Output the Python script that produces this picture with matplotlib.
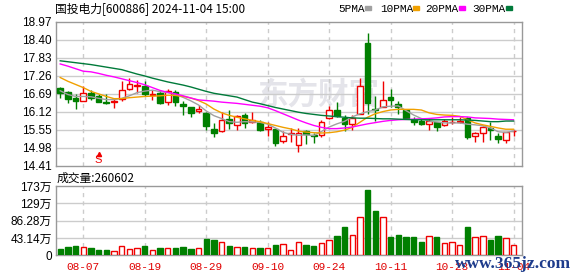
import numpy as np
import matplotlib
matplotlib.use('Agg')
import matplotlib.pyplot as plt
from matplotlib.patches import Rectangle

plt.rcParams['font.family'] = ['Liberation Sans', 'Noto Sans CJK SC']

# trading days shown (MM-DD)
dates = ['08-02', '08-05', '08-06', '08-07', '08-08', '08-09', '08-12', '08-13', '08-14', '08-15',
         '08-16', '08-19', '08-20', '08-21', '08-22', '08-23', '08-26', '08-27', '08-28', '08-29',
         '08-30', '09-02', '09-03', '09-04', '09-05', '09-06', '09-09', '09-10', '09-11', '09-12',
         '09-13', '09-18', '09-19', '09-20', '09-23', '09-24', '09-25', '09-26', '09-27', '09-30',
         '10-08', '10-09', '10-10', '10-11', '10-14', '10-15', '10-16', '10-17', '10-18', '10-21',
         '10-22', '10-23', '10-24', '10-25', '10-28', '10-29', '10-30', '10-31', '11-01', '11-04']

opens = [16.86, 16.74, 16.54, 16.47, 16.71, 16.61, 16.42, 16.41, 16.52, 16.83,
         16.93, 16.92, 16.64, 16.72, 16.42, 16.75, 16.37, 16.26, 16.13, 16.09,
         15.58, 15.50, 15.87, 15.71, 16.02, 15.79, 15.78, 15.56, 15.56, 15.20,
         15.40, 15.06, 15.49, 15.39, 15.38, 15.91, 16.18, 15.91, 15.72, 16.04,
         18.28, 16.19, 16.28, 16.59, 16.37, 16.17, 15.85, 15.82, 15.73, 15.78,
         15.68, 15.78, 15.79, 15.91, 15.33, 15.43, 15.59, 15.33, 15.22, 15.49]
highs = [16.89, 16.76, 16.68, 16.93, 16.82, 16.68, 16.68, 16.53, 17.08, 17.17,
         17.12, 17.10, 16.79, 16.80, 16.84, 16.80, 16.46, 16.27, 16.34, 16.10,
         15.75, 16.12, 16.17, 16.00, 16.07, 16.12, 15.86, 15.79, 15.57, 15.49,
         15.59, 15.59, 15.54, 15.43, 15.84, 16.30, 16.42, 16.01, 16.01, 17.18,
         18.60, 16.60, 17.08, 16.83, 16.45, 16.19, 15.96, 15.93, 15.93, 15.80,
         15.89, 15.96, 15.96, 15.96, 15.46, 15.66, 15.80, 15.43, 15.48, 15.54]
lows = [16.56, 16.39, 16.19, 16.45, 16.50, 16.42, 16.35, 16.24, 16.47, 16.80,
        16.72, 16.62, 16.50, 16.35, 16.33, 16.29, 16.00, 15.96, 16.09, 15.52,
        15.31, 15.48, 15.58, 15.55, 15.61, 15.76, 15.51, 15.33, 15.04, 15.12,
        15.14, 14.85, 15.09, 15.12, 15.30, 15.90, 15.95, 15.49, 15.52, 16.03,
        16.04, 15.81, 16.26, 16.27, 16.05, 15.90, 15.71, 15.70, 15.54, 15.49,
        15.66, 15.72, 15.75, 15.25, 15.14, 15.17, 15.22, 15.12, 15.12, 15.36]
closes = [16.72, 16.52, 16.46, 16.71, 16.55, 16.43, 16.38, 16.47, 16.82, 17.00,
          16.95, 16.68, 16.67, 16.40, 16.78, 16.43, 16.29, 16.06, 16.20, 15.65,
          15.43, 15.86, 15.75, 15.97, 15.76, 15.85, 15.55, 15.62, 15.12, 15.35,
          15.45, 15.43, 15.41, 15.36, 15.80, 16.16, 15.98, 15.73, 15.92, 16.93,
          16.40, 16.16, 16.50, 16.48, 16.26, 15.91, 15.80, 15.74, 15.82, 15.64,
          15.82, 15.80, 15.81, 15.30, 15.43, 15.64, 15.54, 15.24, 15.46, 15.51]

# volume (hands)
volumes = [159000, 209000, 235000, 201000, 184000, 134000, 134000, 101000, 226000, 159000,
           176000, 235000, 126000, 184000, 176000, 184000, 209000, 159000, 176000, 410000,
           385000, 327000, 235000, 201000, 209000, 176000, 176000, 184000, 260000, 276000,
           125000, 327000, 260000, 235000, 302000, 385000, 469000, 695000, 503000, 955000,
           1617000, 1097000, 955000, 444000, 503000, 461000, 461000, 335000, 469000, 461000,
           302000, 327000, 251000, 712000, 452000, 477000, 369000, 486000, 436000, 260602]

ma5 = [16.78, 16.66, 16.60, 16.60, 16.59, 16.54, 16.50, 16.50, 16.54, 16.62,
       16.72, 16.77, 16.80, 16.75, 16.72, 16.66, 16.57, 16.46, 16.33, 16.14,
       15.99, 15.90, 15.80, 15.78, 15.80, 15.79, 15.78, 15.72, 15.60, 15.46,
       15.40, 15.37, 15.38, 15.36, 15.49, 15.63, 15.73, 15.81, 15.95, 16.05,
       16.12, 16.17, 16.27, 16.29, 16.30, 16.15, 16.01, 15.90, 15.82, 15.79,
       15.76, 15.76, 15.76, 15.72, 15.70, 15.67, 15.60, 15.48, 15.46, 15.50]
ma10 = [17.20, 17.08, 16.98, 16.88, 16.76, 16.68, 16.60, 16.53, 16.53, 16.56,
        16.58, 16.60, 16.61, 16.62, 16.64, 16.63, 16.60, 16.55, 16.47, 16.36,
        16.20, 16.08, 16.00, 15.94, 15.89, 15.84, 15.80, 15.74, 15.68, 15.62,
        15.57, 15.50, 15.47, 15.45, 15.44, 15.45, 15.48, 15.53, 15.62, 15.78,
        15.94, 16.05, 16.12, 16.17, 16.19, 16.19, 16.19, 16.17, 16.08, 16.03,
        16.01, 16.00, 15.97, 15.86, 15.76, 15.70, 15.65, 15.60, 15.56, 15.56]
ma20 = [17.63, 17.56, 17.48, 17.40, 17.38, 17.33, 17.27, 17.22, 17.16, 17.10,
        17.04, 16.97, 16.88, 16.79, 16.73, 16.68, 16.62, 16.55, 16.49, 16.47,
        16.45, 16.42, 16.40, 16.38, 16.35, 16.32, 16.29, 16.24, 16.15, 16.05,
        15.95, 15.85, 15.76, 15.68, 15.62, 15.58, 15.58, 15.60, 15.63, 15.68,
        15.73, 15.77, 15.81, 15.84, 15.86, 15.87, 15.88, 15.89, 15.90, 15.92,
        15.95, 15.96, 15.96, 15.95, 15.92, 15.91, 15.90, 15.88, 15.87, 15.86]
ma30 = [17.73, 17.70, 17.67, 17.64, 17.61, 17.57, 17.53, 17.49, 17.45, 17.38,
        17.31, 17.25, 17.18, 17.12, 17.06, 17.01, 16.96, 16.90, 16.83, 16.76,
        16.70, 16.66, 16.62, 16.58, 16.50, 16.42, 16.37, 16.31, 16.25, 16.20,
        16.15, 16.10, 16.06, 16.03, 16.00, 15.98, 15.96, 15.94, 15.92, 15.91,
        15.91, 15.90, 15.89, 15.89, 15.88, 15.87, 15.86, 15.86, 15.86, 15.86,
        15.86, 15.86, 15.86, 15.85, 15.84, 15.82, 15.80, 15.80, 15.82, 15.82]

price_ticks = [14.41, 14.98, 15.55, 16.12, 16.69, 17.26, 17.83, 18.40, 18.97]
vol_ticks = [0, 431400, 862800, 1294200, 1725600]
vol_labels = ['0', '43.14万', '86.28万', '129万', '173万']
label_idx = [3, 11, 19, 27, 35, 43, 51, 59]

up_c = '#f00000'
dn_c = '#007f00'
grid_c = '#cccccc'
frame_c = '#999999'

n = len(closes)
x = np.arange(n)
W, H = 578, 276

fig = plt.figure(figsize=(W / 100, H / 100), dpi=100)
ax = fig.add_axes([56 / W, 1 - 165.5 / H, 466 / W, 143.8 / H])
axv = fig.add_axes([56 / W, 1 - 255.3 / H, 466 / W, 69.3 / H])

for a in (ax, axv):
    a.set_xlim(-0.55, 60.1)
    for s in a.spines.values():
        s.set_color(frame_c)
        s.set_linewidth(1)
    for k in label_idx:
        a.axvline(k, color=grid_c, lw=1, ls=(0, (3, 3)), zorder=1)
    a.tick_params(length=0, labelsize=8.5, pad=3)

# price panel
ax.set_ylim(14.41, 18.97)
ax.set_yticks(price_ticks)
ax.set_yticklabels(['%.2f' % p for p in price_ticks])
for p in price_ticks[1:-1]:
    ax.axhline(p, color=grid_c, lw=1, zorder=1)
ax.set_xticks([])

# background watermark, under the candles
ax.text(318 / W, 1 - 95 / H, '东方财富', transform=fig.transFigure, fontsize=22,
        fontweight='bold', color='#e4e4ea', ha='center', va='center',
        family=['Noto Sans CJK SC'], zorder=0.5)

for i in range(n):
    o, h, l, c = opens[i], highs[i], lows[i], closes[i]
    up = c >= o
    col = up_c if up else dn_c
    ax.vlines(i, l, h, color=col, lw=1, zorder=3)
    bot = min(o, c)
    ht = max(abs(c - o), 0.015)
    ax.add_patch(Rectangle((i - 0.37, bot), 0.74, ht, facecolor='white' if up else col,
                           edgecolor=col, lw=1, zorder=4))

ax.plot(x, ma5, color='#a0a0a0', lw=1, zorder=5)
ax.plot(x, ma10, color='#f0a000', lw=1, zorder=5)
ax.plot(x, ma20, color='#ff00ff', lw=1, zorder=5)
ax.plot(x, ma30, color='#007a3a', lw=1, zorder=5)

# S signal
ax.plot(5, 14.76, marker='^', color=up_c, ms=3, zorder=6)
ax.text(5, 14.58, 'S', color=up_c, fontsize=8, ha='center', va='center', zorder=6)

# volume panel
axv.set_ylim(0, 1725600)
axv.set_yticks(vol_ticks)
axv.set_yticklabels(vol_labels)
for v in vol_ticks[1:-1]:
    axv.axhline(v, color=grid_c, lw=1, zorder=1)
for i in range(n):
    up = closes[i] >= opens[i]
    col = up_c if up else dn_c
    axv.add_patch(Rectangle((i - 0.35, 0), 0.7, volumes[i], facecolor='white' if up else col,
                            edgecolor=col, lw=1, zorder=3))
axv.set_xticks(label_idx)
axv.set_xticklabels([dates[k] for k in label_idx], color='#e00000', family='Liberation Mono',
                    fontsize=8)
axv.tick_params(axis='x', pad=5)

# header texts
fig.text(55 / W, 1 - 8.5 / H, '国投电力[600886] 2024-11-04 15:00', fontsize=8.5,
         va='center', ha='left', family=['Noto Sans CJK SC'])
fig.text(57 / W, 1 - 178 / H, '成交量:%d' % volumes[-1], fontsize=8.5,
         va='center', ha='left', family=['Noto Sans CJK SC'])

legend_items = [('5PMA', '#a0a0a0', 338, 365), ('10PMA', '#f0a000', 380, 413),
                ('20PMA', '#ff00ff', 425, 459), ('30PMA', '#007a3a', 472, 506)]
for name, col, tx, rx in legend_items:
    fig.text(tx / W, 1 - 8.5 / H, name, fontsize=8, va='center', ha='left',
             family='Liberation Mono')
    fig.patches.append(Rectangle((rx / W, 1 - 10 / H), 6 / W, 3.5 / H, color=col,
                                 transform=fig.transFigure, figure=fig))

# site watermark over the bottom-right corner, as in the source image
fig.text(513 / W, 1 - 264 / H, 'www.365jz.com', fontsize=12.5, fontweight='bold',
         color='#1e3c8c', ha='center', va='center', family='Liberation Serif')

fig.savefig('out.png', dpi=100, facecolor='white')
